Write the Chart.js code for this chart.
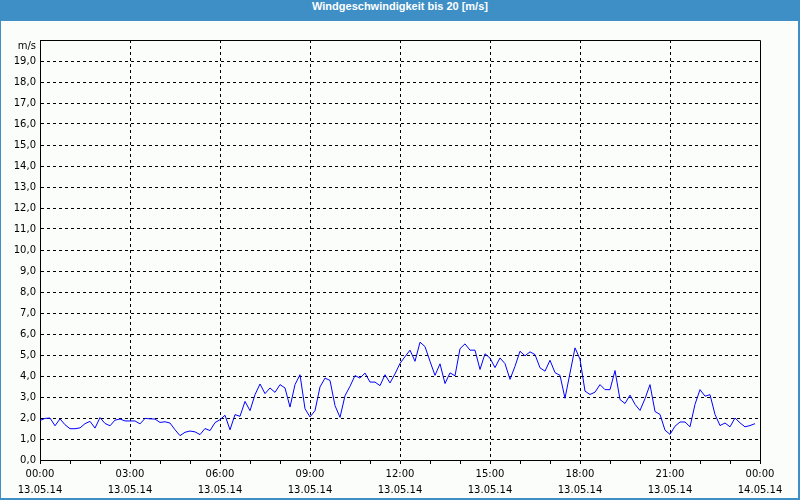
<!DOCTYPE html>
<html>
<head>
<meta charset="utf-8">
<script src="https://cdn.jsdelivr.net/npm/chart.js@4/dist/chart.umd.min.js"></script>
<style>
  html, body { margin: 0; padding: 0; background: #ffffff; }
  #frame { position: relative; width: 800px; height: 500px; background: rgb(62,143,198); overflow: hidden; }
  #title { position: absolute; left: 0; top: 0; width: 800px; height: 21px; line-height: 21px; text-align: center;
           color: #ffffff; font: bold 11px "Liberation Sans", "DejaVu Sans", sans-serif; }
  #inner { position: absolute; left: 1px; top: 21px; right: 2px; bottom: 2px; background: rgb(251,253,251); }
  #c { position: absolute; left: 0; top: 0; }
</style>
</head>
<body>
<div id="frame">
  <div id="title">Windgeschwindigkeit bis 20 [m/s]</div>
  <div id="inner"></div>
  <canvas id="c" width="800" height="500"></canvas>
</div>
<script>
// ---- data (10-minute samples from 13.05.14 00:00) ----
const sampleIntervalMinutes = 10;
const windSpeed = [
  1.88, 1.98, 2.00, 1.63, 1.96, 1.68, 1.49, 1.49, 1.53, 1.73, 1.84, 1.52,
  2.02, 1.74, 1.63, 1.90, 1.95, 1.86, 1.86, 1.86, 1.72, 1.98, 1.96, 1.95,
  1.79, 1.82, 1.76, 1.44, 1.16, 1.32, 1.38, 1.34, 1.21, 1.50, 1.40, 1.78,
  1.92, 2.13, 1.44, 2.16, 2.08, 2.79, 2.35, 3.11, 3.62, 3.16, 3.43, 3.22,
  3.59, 3.43, 2.52, 3.59, 4.06, 2.44, 2.05, 2.35, 3.48, 3.90, 3.79, 2.59,
  2.03, 3.06, 3.51, 4.02, 3.90, 4.14, 3.71, 3.71, 3.54, 4.06, 3.67, 4.10,
  4.60, 4.92, 5.23, 4.70, 5.61, 5.40, 4.70, 4.03, 4.58, 3.64, 4.15, 4.01,
  5.30, 5.53, 5.23, 5.23, 4.31, 5.06, 4.85, 4.40, 4.86, 4.59, 3.84, 4.46,
  5.18, 4.96, 5.15, 5.02, 4.39, 4.23, 4.75, 4.16, 4.03, 2.94, 4.14, 5.34,
  4.80, 3.28, 3.12, 3.23, 3.59, 3.35, 3.35, 4.26, 2.88, 2.69, 3.09, 2.65,
  2.36, 2.92, 3.59, 2.31, 2.17, 1.42, 1.22, 1.61, 1.81, 1.81, 1.58, 2.65,
  3.35, 3.04, 3.11, 2.17, 1.64, 1.76, 1.58, 2.00, 1.77, 1.58, 1.64, 1.73
];
// x tick labels, every 3 hours (minutes 0..1440)
const xTickMinutes = [0, 180, 360, 540, 720, 900, 1080, 1260, 1440];
const xTickTimes   = ["00:00", "03:00", "06:00", "09:00", "12:00", "15:00", "18:00", "21:00", "00:00"];
const xTickDates   = ["13.05.14", "13.05.14", "13.05.14", "13.05.14", "13.05.14", "13.05.14", "13.05.14", "13.05.14", "14.05.14"];
const yUnitLabel = "m/s";

const points = windSpeed.map((v, i) => ({ x: i * sampleIntervalMinutes, y: v }));
const FONT = { family: '"DejaVu Sans", sans-serif', size: 10, lineHeight: 1.6 };
const YFONT = { family: '"DejaVu Sans", sans-serif', size: 10, lineHeight: 1.2 };

const frameBorder = {
  id: 'frameBorder',
  afterDraw(chart) {
    const { ctx, chartArea: a } = chart;
    ctx.save();
    ctx.strokeStyle = '#000';
    ctx.lineWidth = 1;
    ctx.beginPath();
    ctx.moveTo(Math.round(a.left) + 0.5, Math.round(a.top) + 0.5);
    ctx.lineTo(Math.round(a.right) + 0.5, Math.round(a.top) + 0.5);
    ctx.lineTo(Math.round(a.right) + 0.5, Math.round(a.bottom) + 0.5);
    ctx.stroke();
    ctx.restore();
  }
};

new Chart(document.getElementById('c'), {
  type: 'line',
  data: {
    datasets: [{
      data: points,
      borderColor: '#0000ff',
      borderWidth: 1,
      pointRadius: 0,
      tension: 0,
      fill: false
    }]
  },
  options: {
    responsive: false,
    animation: false,
    devicePixelRatio: 1,
    layout: { padding: { top: 40, right: 40, left: 0, bottom: 0 } },
    plugins: { legend: { display: false }, tooltip: { enabled: false }, title: { display: false } },
    scales: {
      x: {
        type: 'linear',
        min: 0, max: 1440,
        afterFit(s) { s.height = 40; },
        afterBuildTicks(s) {
          const t = [];
          for (let m = 0; m <= 1440; m += 60) t.push({ value: m });
          s.ticks = t;
        },
        ticks: {
          autoSkip: false, maxRotation: 0, color: '#000', font: FONT, padding: 2,
          callback(v) {
            const k = xTickMinutes.indexOf(v);
            return k >= 0 ? [xTickTimes[k], xTickDates[k]] : '';
          }
        },
        grid: {
          color: (ctx) => (ctx.tick && ctx.tick.value % 180 === 0 && ctx.tick.value > 0 && ctx.tick.value < 1440) ? '#000' : 'rgba(0,0,0,0)',
          lineWidth: 1,
          drawTicks: true, tickLength: 4, tickColor: '#000', tickWidth: 1
        },
        border: { display: true, color: '#000', width: 1, dash: [3, 3] }
      },
      y: {
        min: 0, max: 20,
        afterFit(s) { s.width = 40; },
        ticks: {
          autoSkip: false, stepSize: 1, color: '#000', font: YFONT, padding: 4,
          callback(v) { return v === 20 ? ['', yUnitLabel] : v.toFixed(1).replace('.', ','); }
        },
        grid: {
          color: (ctx) => (ctx.tick && ctx.tick.value > 0 && ctx.tick.value < 20) ? '#000' : 'rgba(0,0,0,0)',
          lineWidth: 1,
          drawTicks: false
        },
        border: { display: true, color: '#000', width: 1, dash: [3, 3] }
      }
    }
  },
  plugins: [frameBorder]
});
</script>
</body>
</html>
